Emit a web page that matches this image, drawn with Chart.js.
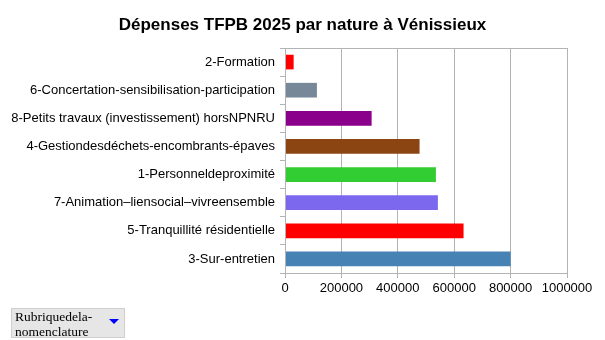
<!DOCTYPE html>
<html>
<head>
<meta charset="utf-8">
<script src="https://cdn.jsdelivr.net/npm/chart.js@4"></script>
<style>
  html, body { margin: 0; padding: 0; background: #fff; }
  #wrap { position: relative; width: 605px; height: 340px; }
  #pivotBtn {
    position: absolute; left: 11px; top: 308px; width: 114px; height: 30px;
    box-sizing: border-box; background: #e6e6e6; border: 1px solid #cfcfcf;
    font-family: "Liberation Serif", "DejaVu Serif", serif; font-size: 13.5px;
    line-height: 15px; color: #000; padding: 0 0 0 3px;
  }
  #pivotBtn .arrow {
    position: absolute; right: 5px; top: 10px; width: 0; height: 0;
    border-left: 5px solid transparent; border-right: 5px solid transparent;
    border-top: 5px solid #0000ff;
  }
</style>
</head>
<body>
<div id="wrap">
  <canvas id="barChart" width="605" height="340"></canvas>
  <div id="pivotBtn">Rubriquedela-<br>nomenclature<span class="arrow"></span></div>
</div>
<script>
// categories (du haut vers le bas) et montants
var categories = [
    '2-Formation',
    '6-Concertation-sensibilisation-participation',
    '8-Petits travaux (investissement) horsNPNRU',
    '4-Gestiondesdéchets-encombrants-épaves',
    '1-Personneldeproximité',
    '7-Animation–liensocial–vivreensemble',
    '5-Tranquillité résidentielle',
    '3-Sur-entretien'
];
var montants = [29500, 112000, 306000, 476000, 534000, 541000, 632000, 799000];
var couleurs = ['#ff0000', '#778899', '#8b008b', '#8b4513', '#32cd32', '#7b68ee', '#ff0000', '#4682b4'];
var xTicks = [0, 200000, 400000, 600000, 800000, 1000000];

var gridColor = '#b3b3b3';

// cadre autour de la zone de tracé
var cadre = {
    id: 'cadre',
    afterDraw: function(chart) {
        var a = chart.chartArea, c = chart.ctx;
        c.save();
        c.strokeStyle = gridColor;
        c.lineWidth = 1;
        c.strokeRect(Math.round(a.left) + 0.5, Math.round(a.top) + 0.5,
            Math.round(a.right - a.left), Math.round(a.bottom - a.top));
        c.restore();
    }
};

var ctx = document.getElementById('barChart').getContext('2d');
var myChart = new Chart(ctx, {
    type: 'bar',
    data: {
        labels: categories,
        datasets: [{
            data: montants,
            backgroundColor: couleurs,
            borderWidth: 0,
            barThickness: 14
        }]
    },
    options: {
        indexAxis: 'y',
        responsive: false,
        animation: false,
        layout: { padding: 0 },
        plugins: {
            legend: { display: false },
            tooltip: { enabled: false },
            title: {
                display: true,
                text: 'Dépenses TFPB 2025 par nature à Vénissieux',
                color: '#000',
                font: { family: 'Liberation Sans', size: 17, weight: 'bold' },
                padding: { top: 15, bottom: 12.6 }
            }
        },
        scales: {
            x: {
                min: 0,
                max: 1000000,
                afterBuildTicks: function(scale) {
                    scale.ticks = xTicks.map(function(v) { return { value: v }; });
                },
                afterFit: function(scale) { scale.height = 67; },
                grid: { color: gridColor, tickLength: 5 },
                border: { color: gridColor },
                ticks: {
                    color: '#000',
                    padding: 3,
                    maxRotation: 0,
                    font: { family: 'Liberation Sans', size: 13 },
                    callback: function(v) { return String(v); }
                }
            },
            y: {
                afterFit: function(scale) { scale.width = 285; },
                grid: { offset: true, drawOnChartArea: false, color: gridColor, tickLength: 5 },
                border: { color: gridColor },
                ticks: {
                    color: '#000',
                    padding: 5,
                    font: { family: 'Liberation Sans', size: 13 }
                }
            },
            // marge droite vide, pour garder le titre centré sur toute la largeur
            y2: {
                position: 'right',
                afterFit: function(scale) { scale.width = 38; },
                grid: { display: false },
                border: { display: false },
                ticks: { display: false }
            }
        }
    },
    plugins: [cadre]
});
</script>
</body>
</html>
